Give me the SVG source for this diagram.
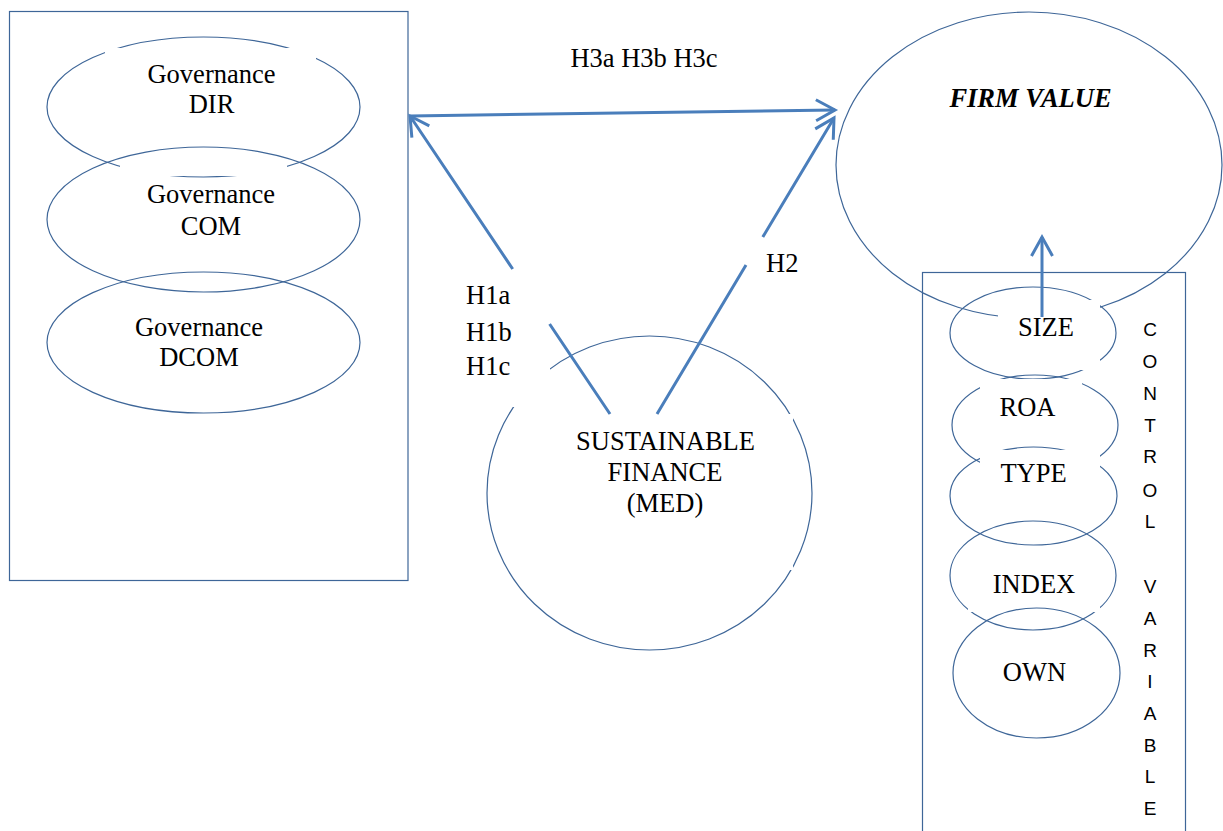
<svg xmlns="http://www.w3.org/2000/svg" width="1223" height="831" viewBox="0 0 1223 831">
<style>
.sh{fill:none;stroke:#3E6698;stroke-width:1.2}
.bx{fill:#fff;stroke:none}
.t{font-family:"Liberation Serif","Times New Roman",serif;font-size:26.5px;fill:#000}
.c{text-anchor:middle}
.v{font-family:"Liberation Sans",Arial,sans-serif;font-size:19px;fill:#000;text-anchor:middle}
.ln{fill:none;stroke:#4A7EBB;stroke-width:3}
</style>
<defs>
<marker id="arr" markerUnits="userSpaceOnUse" orient="auto" overflow="visible" refX="0" refY="0" markerWidth="1" markerHeight="1">
<path d="M-19,-10.5 L0,0 L-19,10.5" fill="none" stroke="#4A7EBB" stroke-width="3"/>
</marker>
</defs>
<rect width="1223" height="831" fill="#fff"/>

<g id="governance-box">
<rect class="sh" x="9.5" y="11.5" width="398.5" height="569"/>
</g>
<g id="gov-dir">
<ellipse class="sh" cx="203.5" cy="107" rx="156.5" ry="70"/>
<rect class="bx" x="105" y="48" width="211" height="95"/>
<rect class="bx" x="120" y="140" width="167" height="36"/>
</g>
<g id="gov-com">
<ellipse class="sh" cx="203.5" cy="219.5" rx="156.5" ry="72.5"/>
</g>
<g id="gov-dcom">
<ellipse class="sh" cx="203.5" cy="342.5" rx="156.5" ry="70.5"/>
</g>
<g id="gov-text">
<text class="t c" x="211.5" y="83">Governance</text>
<text class="t c" x="211.5" y="113">DIR</text>
<text class="t c" x="211" y="203">Governance</text>
<text class="t c" x="211" y="235">COM</text>
<text class="t c" x="199" y="336">Governance</text>
<text class="t c" x="199" y="366">DCOM</text>
</g>

<g id="sustainable-finance">
<ellipse class="sh" cx="649.5" cy="493" rx="162.5" ry="157"/>
<rect class="bx" x="440" y="269" width="110" height="138"/>
<rect class="bx" x="512" y="414" width="281" height="156"/>
<text class="t c" x="665.5" y="450">SUSTAINABLE</text>
<text class="t c" x="665" y="481">FINANCE</text>
<text class="t c" x="665" y="512">(MED)</text>
</g>

<g id="firm-value">
<ellipse class="sh" cx="1029" cy="165" rx="193" ry="153"/>
<text class="t c" x="1030.5" y="107" font-weight="bold" font-style="italic">FIRM VALUE</text>
</g>

<g id="control-variables">
<rect class="sh" x="922.5" y="272.5" width="263" height="580"/>
<g id="size">
<ellipse class="sh" cx="1033" cy="333" rx="83" ry="46"/>
<rect class="bx" x="998" y="300" width="102" height="70"/>
</g>
<g id="roa">
<ellipse class="sh" cx="1035" cy="425" rx="83" ry="50"/>
<rect class="bx" x="980" y="379" width="102" height="61"/>
</g>
<g id="type">
<ellipse class="sh" cx="1033.5" cy="496" rx="83.5" ry="49"/>
<rect class="bx" x="980" y="450" width="120" height="70"/>
</g>
<g id="index">
<ellipse class="sh" cx="1033" cy="575.5" rx="83" ry="54.5"/>
<rect class="bx" x="968" y="550" width="132" height="62"/>
</g>
<g id="own">
<ellipse class="sh" cx="1036.5" cy="673" rx="83.5" ry="65"/>
</g>
<text class="t c" x="1046" y="336">SIZE</text>
<text class="t c" x="1027.5" y="416">ROA</text>
<text class="t c" x="1033.5" y="482">TYPE</text>
<text class="t c" x="1034" y="593">INDEX</text>
<text class="t c" x="1034.5" y="681" font-size="29">OWN</text>
<g id="control-label">
<text class="v" x="1150" y="336">C</text>
<text class="v" x="1150" y="368">O</text>
<text class="v" x="1150" y="400">N</text>
<text class="v" x="1150" y="432">T</text>
<text class="v" x="1150" y="463">R</text>
<text class="v" x="1150" y="497">O</text>
<text class="v" x="1150" y="528">L</text>
<text class="v" x="1150" y="593">V</text>
<text class="v" x="1150" y="625">A</text>
<text class="v" x="1150" y="657">R</text>
<text class="v" x="1150" y="688">I</text>
<text class="v" x="1150" y="720">A</text>
<text class="v" x="1150" y="752">B</text>
<text class="v" x="1150" y="783">L</text>
<text class="v" x="1150" y="815">E</text>
</g>
</g>

<g id="labels">
<text class="t c" x="644" y="67">H3a H3b H3c</text>
<text class="t" x="466" y="304">H1a</text>
<text class="t" x="466" y="341">H1b</text>
<text class="t" x="466" y="375">H1c</text>
<text class="t" x="766" y="272">H2</text>
</g>

<g id="connectors">
<path class="ln" d="M410,116 L835,110" marker-end="url(#arr)"/>
<path class="ln" d="M610,414 L549.6,324 M512.7,269 L410,116" marker-end="url(#arr)"/>
<path class="ln" d="M657,414 L746,265 M762.8,237 L834,118" marker-end="url(#arr)"/>
<path class="ln" d="M1042,317 L1042,237" marker-end="url(#arr)"/>
</g>
</svg>
